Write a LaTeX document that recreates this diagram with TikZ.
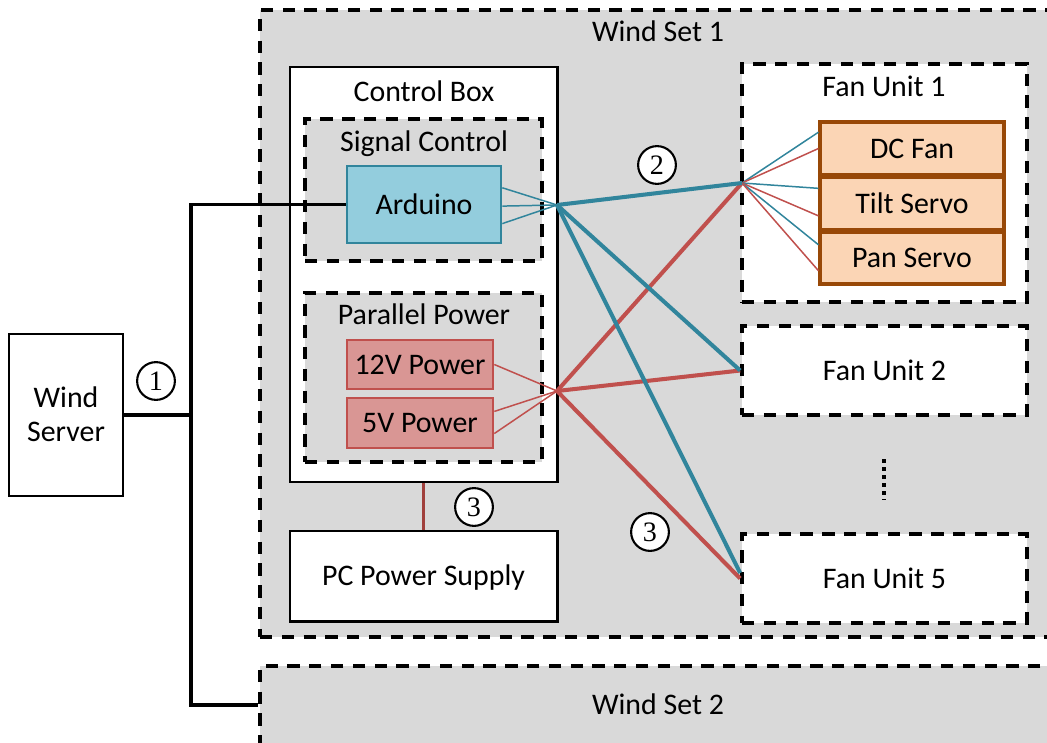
\documentclass[tikz,border=0pt]{standalone}
\usepackage{fontspec}
\setmainfont{Carlito}
\newfontfamily\serifnum{Liberation Serif}
\usetikzlibrary{fit,calc}
\definecolor{bggray}{HTML}{D9D9D9}
\definecolor{ardfill}{HTML}{93CDDD}
\definecolor{ardline}{HTML}{31859C}
\definecolor{pwrfill}{HTML}{D99694}
\definecolor{pwrline}{HTML}{C0504D}
\definecolor{fanfill}{HTML}{FBD5B5}
\definecolor{fanline}{HTML}{984807}
\definecolor{pcline}{HTML}{A0403C}
\begin{document}
\begin{tikzpicture}[x=0.02cm,y=-0.02cm,
  font=\fontsize{17}{20}\selectfont,
  dbox/.style={draw=black, dash pattern=on 7pt off 5.4pt, line width=2.1pt, inner sep=0pt},
  sbox/.style={draw=black, line width=1.7pt, fill=white, inner sep=0pt},
  ardbox/.style={draw=ardline, line width=1.5pt, fill=ardfill, inner sep=0pt},
  pwrbox/.style={draw=pwrline, line width=1.5pt, fill=pwrfill, inner sep=0pt},
  fanbox/.style={draw=fanline, line width=1.8pt, fill=fanfill, inner sep=0pt},
  wire/.style={draw=black, line width=1.9pt},
  thickblue/.style={draw=ardline, line width=2.3pt},
  thinblue/.style={draw=ardline, line width=0.85pt},
  thickred/.style={draw=pwrline, line width=2.3pt},
  thinred/.style={draw=pwrline, line width=0.85pt},
  num/.style={circle, draw=black, line width=1.2pt, fill=white, minimum size=21.5pt, inner sep=0pt, font=\serifnum\fontsize{16}{16}\selectfont},
  lbl/.style={inner sep=0pt, anchor=base, yshift=-5.5pt}]
\clip (0,0) rectangle (1047,743);
\fill[white] (0,0) rectangle (1047,743);
% wind sets
\node[dbox, fill=bggray, fit={(260,10)(1075,637)}] (ws1) {};
\node[lbl] (ws1t) at (658,32) {Wind Set 1};
\node[dbox, fill=bggray, fit={(260,666)(1075,775)}] (ws2) {};
\node[lbl] (ws2t) at (658,705) {Wind Set 2};
% wind server
\node[sbox, fit={(9,334)(123,496)}] (srv) {};
\node[lbl] (srvt1) at (66,398) {Wind};
\node[lbl] (srvt2) at (66,432) {Server};
% control box
\node[sbox, fit={(290,67)(557,482)}] (cb) {};
\node[lbl] (cbt) at (424,92) {Control Box};
\node[dbox, fill=bggray, fit={(305,119)(542,261)}] (sc) {};
\node[lbl] (sct) at (424,142) {Signal Control};
\node[ardbox, fit={(347,166)(501,243)}] (ard) {};
\node[lbl] (ardt) at (ard.center) {Arduino};
\node[dbox, fill=bggray, fit={(305,293)(542,462)}] (pp) {};
\node[lbl] (ppt) at (424,315) {Parallel Power};
\node[pwrbox, fit={(347,340)(493,389)}] (p12) {};
\node[lbl] (p12t) at (p12.center) {12V Power};
\node[pwrbox, fit={(347,398)(493,448)}] (p5) {};
\node[lbl] (p5t) at (p5.center) {5V Power};
\node[sbox, fit={(290,531)(557,621)}] (pc) {};
\node[lbl] (pct) at (pc.center) {PC Power Supply};
% fan units
\node[dbox, fill=white, fit={(742,64)(1027,302)}] (fu1) {};
\node[lbl] (fu1t) at (884,87) {Fan Unit 1};
\node[fanbox, fit={(820,122)(1004,175)}] (dc) {};
\node[lbl] (dct) at (dc.center) {DC Fan};
\node[fanbox, fit={(820,177)(1004,230)}] (tilt) {};
\node[lbl] (tiltt) at (tilt.center) {Tilt Servo};
\node[fanbox, fit={(820,232)(1004,284)}] (pan) {};
\node[lbl] (pant) at (pan.center) {Pan Servo};
\node[dbox, fill=white, fit={(742,326)(1027,415)}] (fu2) {};
\node[lbl] (fu2t) at (fu2.center) {Fan Unit 2};
\node[dbox, fill=white, fit={(742,534)(1027,623)}] (fu5) {};
\node[lbl] (fu5t) at (fu5.center) {Fan Unit 5};
\draw[line width=2.3pt, dash pattern=on 2.3pt off 2.3pt] (884,459) -- (884,500);
% hubs
\coordinate (bh) at (557,205);
\coordinate (rh) at (557,391);
\coordinate (fh) at (742,183);
\coordinate (jn) at (191,705);
% wind server wiring
\draw[wire] (srv.east) -- (srv.east -| jn);
\draw[wire] (ard.west) -- (ard.west -| jn) -- (jn) -- (ws2.west |- jn);
\node[num] (n1) at (156,381) {1};
% PC power link
\draw[draw=pcline, line width=2pt] (cb.south) -- (pc.north);
\node[num] (n3a) at (474,507) {3};
% thin signal lines
\draw[thinblue] ($(ard.north east)!0.29!(ard.south east)$) -- (bh);
\draw[thinblue] ($(ard.north east)!0.52!(ard.south east)$) -- (bh);
\draw[thinblue] ($(ard.north east)!0.74!(ard.south east)$) -- (bh);
\draw[thinred] (p12.east) -- (rh);
\draw[thinred] ($(p5.north east)!0.28!(p5.south east)$) -- (rh);
\draw[thinred] ($(p5.north east)!0.70!(p5.south east)$) -- (rh);
% fan unit 1 internal
\draw[thinblue] (fh) -- ($(dc.north west)!0.21!(dc.south west)$);
\draw[thinred] (fh) -- ($(dc.north west)!0.50!(dc.south west)$);
\draw[thinblue] (fh) -- ($(tilt.north west)!0.23!(tilt.south west)$);
\draw[thinred] (fh) -- ($(tilt.north west)!0.72!(tilt.south west)$);
\draw[thinblue] (fh) -- ($(pan.north west)!0.26!(pan.south west)$);
\draw[thinred] (fh) -- ($(pan.north west)!0.73!(pan.south west)$);
% thick cables
\draw[thickred] (rh) -- (fh);
\draw[thickred] (rh) -- (fu2.west);
\draw[thickred] (rh) -- (fu5.west);
\draw[thickblue] (bh) -- (fh);
\draw[thickblue] (bh) -- (fu2.west);
\draw[thickblue] (bh) -- ($(fu5.north west)!0.44!(fu5.south west)$);
\node[num] (n2) at (657,165) {2};
\node[num] (n3b) at (650,532) {3};
\end{tikzpicture}
\end{document}
